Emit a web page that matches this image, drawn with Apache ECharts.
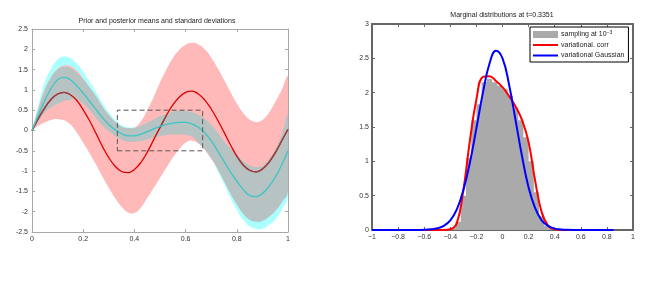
<!DOCTYPE html>
<html><head><meta charset="utf-8">
<script src="https://cdn.jsdelivr.net/npm/echarts@6/dist/echarts.min.js"></script>
<style>html,body{margin:0;padding:0;background:#fff}#c{width:664px;height:294px}</style>
</head><body><div id="c"></div>
<script>
// ---------- Left panel data ----------
const xs = [0,0.025,0.05,0.075,0.1,0.125,0.15,0.175,0.2,0.225,0.25,0.275,0.3,0.325,0.35,0.375,0.4,0.425,0.45,0.475,0.5,
            0.525,0.55,0.575,0.6,0.625,0.65,0.675,0.7,0.725,0.75,0.775,0.8,0.825,0.85,0.875,0.9,0.925,0.95,0.975,1];
const priorMean  = [0,0.3,0.56,0.77,0.9,0.94,0.88,0.74,0.51,0.24,-0.07,-0.39,-0.67,-0.88,-1.01,-1.04,-0.96,-0.79,-0.54,-0.23,0.07,
                    0.37,0.63,0.82,0.94,0.97,0.9,0.75,0.53,0.26,-0.04,-0.35,-0.63,-0.85,-0.98,-1.02,-0.95,-0.79,-0.55,-0.26,0.03];
const priorUpper = [0,0.5,0.95,1.3,1.52,1.6,1.58,1.47,1.28,1.05,0.8,0.55,0.33,0.16,0.04,0.0,0.06,0.22,0.5,0.82,1.18,
                    1.5,1.78,1.98,2.11,2.16,2.12,2.0,1.8,1.54,1.25,0.95,0.67,0.43,0.27,0.21,0.26,0.43,0.7,1.0,1.32];
const priorLower = [0,0.12,0.2,0.26,0.28,0.25,0.15,-0.05,-0.3,-0.56,-0.84,-1.13,-1.41,-1.67,-1.88,-2.02,-2.03,-1.9,-1.66,-1.42,-1.17,
                    -0.92,-0.67,-0.46,-0.3,-0.25,-0.32,-0.48,-0.7,-0.92,-1.15,-1.4,-1.65,-1.85,-2.0,-2.06,-2.03,-1.92,-1.75,-1.55,-1.3];
const postMean   = [0,0.38,0.74,1.04,1.25,1.31,1.25,1.1,0.92,0.72,0.52,0.32,0.15,0.02,-0.08,-0.13,-0.13,-0.09,-0.03,0.04,0.1,
                    0.15,0.18,0.2,0.2,0.16,0.08,-0.06,-0.25,-0.5,-0.76,-1.02,-1.25,-1.45,-1.6,-1.63,-1.55,-1.38,-1.15,-0.85,-0.5];
const postUpper  = [0,0.55,1.01,1.32,1.5,1.57,1.54,1.42,1.26,1.06,0.85,0.6,0.39,0.22,0.1,0.06,0.07,0.12,0.19,0.27,0.35,
                    0.41,0.46,0.49,0.48,0.45,0.39,0.29,0.15,-0.05,-0.26,-0.44,-0.6,-0.75,-0.86,-0.9,-0.86,-0.7,-0.47,-0.1,0.38];
const postLower  = [0,0.22,0.44,0.57,0.66,0.72,0.76,0.76,0.66,0.5,0.31,0.12,-0.02,-0.14,-0.23,-0.28,-0.28,-0.26,-0.22,-0.18,-0.14,
                    -0.11,-0.1,-0.1,-0.11,-0.15,-0.3,-0.46,-0.67,-0.95,-1.25,-1.55,-1.82,-2.05,-2.2,-2.25,-2.23,-2.13,-1.99,-1.78,-1.49];
const gaussUpper = [0,0.62,1.2,1.52,1.75,1.82,1.78,1.65,1.45,1.2,0.95,0.68,0.45,0.26,0.13,0.08,0.08,0.13,0.2,0.28,0.36,
                    0.42,0.47,0.5,0.49,0.46,0.4,0.3,0.16,-0.04,-0.25,-0.43,-0.59,-0.74,-0.85,-0.89,-0.85,-0.69,-0.46,-0.09,0.39];
const gaussLower = [0,0.22,0.44,0.57,0.66,0.72,0.76,0.76,0.66,0.5,0.31,0.12,-0.02,-0.14,-0.23,-0.28,-0.28,-0.26,-0.22,-0.18,-0.14,
                    -0.11,-0.1,-0.1,-0.11,-0.15,-0.3,-0.46,-0.68,-1.0,-1.32,-1.65,-1.95,-2.2,-2.36,-2.42,-2.42,-2.33,-2.2,-1.95,-1.62];
const boxX = [1/3, 2/3];
const boxY = [-0.5, 0.5];

// ---------- Right panel data ----------
const margX = [-1,-0.95,-0.9,-0.85,-0.8,-0.75,-0.7,-0.65,-0.6,-0.55,-0.5,-0.45,-0.4,-0.35,-0.3,-0.25,-0.2,-0.15,-0.1,-0.05,0,0.05,0.1,0.15,0.2,0.25,0.3,0.35,0.4,0.45,0.5,0.55,0.6,0.65,0.7,0.75,0.8,0.85];
const gaussY = [0,0,0,0,0,0,0,0.001,0.003,0.01,0.025,0.06,0.14,0.3,0.58,0.98,1.48,2.0,2.42,2.61,2.5,2.12,1.6,1.07,0.62,0.32,0.14,0.06,0.02,0.008,0.002,0,0,0,0,0,0,0];
const corrY  = [0,0,0,0,0,0,0,0,0,0,0,0,0.01,0.1,0.58,1.3,1.9,2.23,2.24,2.17,2.08,1.95,1.8,1.6,1.28,0.72,0.26,0.06,0.01,0,0,0,0,0,0,0,0,0];
const histX = [-0.46,-0.42,-0.38,-0.34,-0.3,-0.26,-0.22,-0.18,-0.14,-0.1,-0.06,-0.02,0.02,0.06,0.1,0.14,0.18,0.22,0.26,0.3,0.34,0.38,0.42];
const histY = [0,0.01,0.03,0.12,0.5,1.05,1.6,1.83,2.15,2.2,2.15,2.1,2.05,1.95,1.78,1.6,1.35,1.0,0.55,0.2,0.06,0.01,0];

const legendNames = ['sampling at 10-3', 'variational. corr', 'variational Gaussian'];
const titles = ['Prior and posterior means and standard deviations', 'Marginal distributions at t=0.3351'];

// ---------- build ----------
const FONT = 'Liberation Sans, Arial, sans-serif';
const SMOOTH = 0.45;
const pairs = (xa, ya) => xa.map((x, i) => [x, ya[i]]);
function band(lower, upper, color) {
  return {type:'custom', xAxisIndex:0, yAxisIndex:0, silent:true, clip:true,
    data: xs.map((x, i) => [x, lower[i], upper[i]]),
    encode:{x:0, y:[1,2]},
    renderItem: function (params, api) {
      if (params.dataIndex !== 0) return null;
      const pts = [];
      for (let i = 0; i < xs.length; i++) pts.push(api.coord([xs[i], upper[i]]));
      for (let i = xs.length - 1; i >= 0; i--) pts.push(api.coord([xs[i], lower[i]]));
      return {type:'polygon', shape:{points:pts, smooth:SMOOTH}, style:{fill:color}};
    }};
}
const redInside = xs.map((x, i) =>
  (priorMean[i] >= postLower[i] && priorMean[i] <= postUpper[i]) ? [x, priorMean[i]] : [x, null]);

const boxPath = [[boxX[0],boxY[0]],[boxX[1],boxY[0]],[boxX[1],boxY[1]],[boxX[0],boxY[1]],[boxX[0],boxY[0]]];

const lightAx = '#a8a8a8', darkAx = '#666';
function xAx(grid, pos, min, max, col, w, showLab, fmt) {
  return {gridIndex:grid, type:'value', position:pos, min:min, max:max, interval:0.2,
    axisLine:{onZero:false, lineStyle:{color:col, width:w}},
    axisTick:{inside:true, length:3, lineStyle:{color:col, width:1}},
    axisLabel:{show:showLab, fontSize:7, color:'#333', margin:4, fontFamily:FONT, formatter:fmt},
    splitLine:{show:false}};
}
function yAx(grid, pos, min, max, col, w, showLab, margin) {
  return {gridIndex:grid, type:'value', position:pos, min:min, max:max, interval:0.5,
    axisLine:{onZero:false, lineStyle:{color:col, width:w}},
    axisTick:{inside:true, length:3, lineStyle:{color:col, width:1}},
    axisLabel:{show:showLab, fontSize:7, color:'#333', margin:margin, fontFamily:FONT},
    splitLine:{show:false}};
}
const minusFmt = v => v < 0 ? '\u2212' + String(-v) : String(v);

const series = [
  band(gaussLower, gaussUpper, '#aaffff'),
  band(priorLower, priorUpper, '#ffb9b9'),
  {type:'line', xAxisIndex:0, yAxisIndex:0, smooth:SMOOTH, symbol:'none', silent:true,
    lineStyle:{color:'#e00000', width:1.3}, data: pairs(xs, priorMean)},
  band(postLower, postUpper, '#b7c3c3'),
  {type:'line', xAxisIndex:0, yAxisIndex:0, smooth:SMOOTH, symbol:'none', silent:true,
    lineStyle:{color:'#8e4646', width:1.3}, data: redInside},
  {type:'line', xAxisIndex:0, yAxisIndex:0, smooth:SMOOTH, symbol:'none', silent:true,
    lineStyle:{color:'#3cc4c4', width:1.3}, data: pairs(xs, postMean)},
  {type:'line', xAxisIndex:0, yAxisIndex:0, symbol:'none', silent:true,
    lineStyle:{color:'#555', width:1, type:[5,3]}, data: boxPath},
  // right panel
  {name:legendNames[0], type:'line', xAxisIndex:2, yAxisIndex:2, step:'middle', symbol:'none', silent:true,
    itemStyle:{color:'#aaaaaa'}, lineStyle:{width:0, color:'#aaaaaa'}, areaStyle:{color:'#aaaaaa', opacity:1},
    data: pairs(histX, histY)},
  {name:legendNames[1], type:'line', xAxisIndex:2, yAxisIndex:2, smooth:SMOOTH, symbol:'none', silent:true,
    itemStyle:{color:'#ff0000'}, lineStyle:{color:'#ff0000', width:2}, data: pairs(margX, corrY)},
  {name:legendNames[2], type:'line', xAxisIndex:2, yAxisIndex:2, smooth:SMOOTH, symbol:'none', silent:true,
    itemStyle:{color:'#0000ff'}, lineStyle:{color:'#0000ff', width:2}, data: pairs(margX, gaussY)}
];

const chart = echarts.init(document.getElementById('c'), null, {renderer:'canvas'});
chart.setOption({
  animation:false,
  backgroundColor:'#fff',
  textStyle:{fontFamily:FONT},
  grid:[{left:32, top:29, width:256, height:203}, {left:372, top:24, width:261, height:206}],
  xAxis:[
    xAx(0,'bottom',0,1,lightAx,1,true),
    xAx(0,'top',0,1,lightAx,1,false),
    xAx(1,'bottom',-1,1,darkAx,2,true,minusFmt),
    xAx(1,'top',-1,1,darkAx,2,false)
  ],
  yAxis:[
    yAx(0,'left',-2.5,2.5,lightAx,1,true,4),
    yAx(0,'right',-2.5,2.5,lightAx,1,false,4),
    yAx(1,'left',0,3,darkAx,2,true,3),
    yAx(1,'right',0,3,darkAx,2,false,3)
  ],
  legend:{
    data:[{name:legendNames[0], icon:'rect'},
          {name:legendNames[1], itemStyle:{opacity:0}},
          {name:legendNames[2], itemStyle:{opacity:0}}],
    orient:'vertical', left:530, top:27, itemWidth:25, itemHeight:7, itemGap:3.5,
    padding:[3,4,3,2], borderColor:'#000', borderWidth:1, backgroundColor:'#fff', borderRadius:0,
    selectedMode:false,
    formatter: function (name) {
      return name === legendNames[0] ? 'sampling at 10{sup|\u22123}' : name;
    },
    textStyle:{fontSize:7, color:'#222', fontFamily:FONT, padding:[0,0,0,-2],
      rich:{sup:{fontSize:5, color:'#222', fontFamily:FONT, verticalAlign:'top', padding:[0,0,4,0]}}}
  },
  graphic:[
    {type:'text', x:157, y:21, style:{text:titles[0], font:'7px ' + FONT, fill:'#222', align:'center', verticalAlign:'middle'}},
    {type:'text', x:502, y:15, style:{text:titles[1], font:'7px ' + FONT, fill:'#222', align:'center', verticalAlign:'middle'}}
  ],
  series: series
});
</script></body></html>
